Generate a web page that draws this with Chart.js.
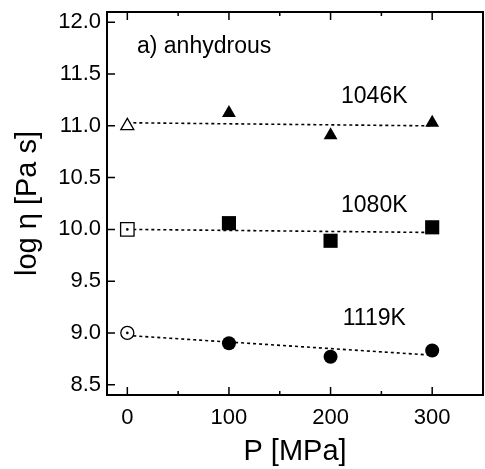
<!DOCTYPE html>
<html>
<head>
<meta charset="utf-8">
<script src="https://cdn.jsdelivr.net/npm/chart.js@4/dist/chart.umd.min.js"></script>
<style>
    html, body { margin: 0; padding: 0; background: #fff; }
    #wrap { width: 485px; height: 469px; }
</style>
</head>
<body>
<div id="wrap"><canvas id="viscChart"></canvas></div>
<script>
// pressure in MPa, log viscosity in Pa s
const pressure = [0, 100, 200, 300];
const eta1046 = [11.0, 11.125, 10.91, 11.03];
const eta1080 = [10.0, 10.06, 9.89, 10.02];
const eta1119 = [9.0, 8.9, 8.77, 8.83];

// dotted fit lines (start / end)
const fitP = [0, 300];
const fit1046 = [11.03, 11.0];
const fit1080 = [10.0, 9.97];
const fit1119 = [8.975, 8.785];

const xTicks = [0, 100, 200, 300];
const xMinorTicks = [50, 150, 250];
const yTicks = [8.5, 9.0, 9.5, 10.0, 10.5, 11.0, 11.5, 12.0];

const textLabels = [
    { text: 'a) anhydrous', x: 9.5, y: 11.77, align: 'left' },
    { text: '1046K', x: 243, y: 11.28, align: 'center' },
    { text: '1080K', x: 243, y: 10.23, align: 'center' },
    { text: '1119K', x: 243, y: 9.14, align: 'center' },
];

const FONT = '"Liberation Sans", Arial, Helvetica, sans-serif';

const pts = (xs, ys) => xs.map((x, i) => ({ x: x, y: ys[i] }));

// first point (0 MPa) is drawn open, the rest filled
const openPt = (ys) => [{ x: pressure[0], y: ys[0] }];
const filledPts = (ys) => pts(pressure.slice(1), ys.slice(1));

function markerSet(data, style, radius, filled, order) {
    return {
        type: 'scatter',
        data: data,
        pointStyle: style,
        pointRadius: radius,
        pointHoverRadius: radius,
        pointBackgroundColor: filled ? '#000' : '#fff',
        pointBorderColor: '#000',
        pointBorderWidth: filled ? 0 : 1.3,
        order: order === undefined ? 1 : order,
    };
}

function fitSet(ys) {
    return {
        type: 'line',
        data: pts(fitP, ys),
        borderColor: '#000',
        borderWidth: 1.6,
        borderDash: [3, 3],
        pointRadius: 0,
        fill: false,
        order: 10,
    };
}

const frameAndTicks = {
    id: 'frameAndTicks',
    afterDraw(chart) {
        const { ctx, chartArea: a, scales } = chart;
        ctx.save();
        ctx.strokeStyle = '#000';
        ctx.lineWidth = 1.5;
        ctx.beginPath();
        xTicks.forEach((v) => {
            const px = scales.x.getPixelForValue(v);
            ctx.moveTo(px, a.bottom); ctx.lineTo(px, a.bottom - 8);
            ctx.moveTo(px, a.top); ctx.lineTo(px, a.top + 8);
        });
        xMinorTicks.forEach((v) => {
            const px = scales.x.getPixelForValue(v);
            ctx.moveTo(px, a.bottom); ctx.lineTo(px, a.bottom - 4);
            ctx.moveTo(px, a.top); ctx.lineTo(px, a.top + 4);
        });
        yTicks.forEach((v) => {
            const py = scales.y.getPixelForValue(v);
            ctx.moveTo(a.left, py); ctx.lineTo(a.left + 8, py);
        });
        ctx.stroke();
        ctx.lineWidth = 2;
        ctx.strokeRect(a.left, a.top, a.right - a.left, a.bottom - a.top);

        ctx.fillStyle = '#000';
        ctx.font = '23px ' + FONT;
        ctx.textBaseline = 'middle';
        textLabels.forEach((t) => {
            ctx.textAlign = t.align;
            ctx.fillText(t.text, scales.x.getPixelForValue(t.x), scales.y.getPixelForValue(t.y));
        });
        ctx.restore();
    },
};

document.addEventListener('DOMContentLoaded', () => {
    const ctx = document.getElementById('viscChart').getContext('2d');

    new Chart(ctx, {
        data: {
            datasets: [
                fitSet(fit1046),
                fitSet(fit1080),
                fitSet(fit1119),
                markerSet(openPt(eta1046), 'triangle', 7.5, false),
                markerSet(filledPts(eta1046), 'triangle', 8, true),
                markerSet(openPt(eta1080), 'rect', 9.5, false),
                markerSet(filledPts(eta1080), 'rect', 10, true),
                markerSet(openPt(eta1119), 'circle', 6.5, false),
                markerSet(filledPts(eta1119), 'circle', 7, true),
                // small dots inside the open square and circle
                markerSet([openPt(eta1080)[0], openPt(eta1119)[0]], 'circle', 1.3, true, 0),
            ],
        },
        options: {
            responsive: true,
            maintainAspectRatio: false,
            animation: false,
            layout: { autoPadding: false, padding: { top: 12, right: 2, left: 0, bottom: 0 } },
            plugins: {
                legend: { display: false },
                tooltip: { enabled: false },
            },
            scales: {
                x: {
                    type: 'linear',
                    min: -20,
                    max: 350,
                    afterBuildTicks: (scale) => {
                        scale.ticks = xTicks.map((v) => ({ value: v }));
                    },
                    afterFit: (scale) => {
                        scale.height = 74;
                        scale.paddingLeft = 0;
                        scale.paddingRight = 0;
                    },
                    grid: { display: false, drawTicks: false },
                    border: { display: false },
                    ticks: {
                        color: '#000',
                        padding: 10,
                        maxRotation: 0,
                        font: { family: FONT, size: 22 },
                    },
                    title: {
                        display: true,
                        text: 'P [MPa]',
                        color: '#000',
                        padding: { top: 5, bottom: 0 },
                        font: { family: FONT, size: 29 },
                    },
                },
                y: {
                    type: 'linear',
                    min: 8.4,
                    max: 12.1,
                    afterBuildTicks: (scale) => {
                        scale.ticks = yTicks.map((v) => ({ value: v }));
                    },
                    afterFit: (scale) => {
                        scale.width = 107;
                        scale.paddingTop = 0;
                        scale.paddingBottom = 0;
                    },
                    grid: { display: false, drawTicks: false },
                    border: { display: false },
                    ticks: {
                        color: '#000',
                        padding: 6,
                        callback: (v) => v.toFixed(1),
                        font: { family: FONT, size: 22 },
                    },
                    title: {
                        display: true,
                        text: 'log η [Pa s]',
                        color: '#000',
                        padding: { top: 11, bottom: 0 },
                        font: { family: FONT, size: 29 },
                    },
                },
            },
        },
        plugins: [frameAndTicks],
    });
});
</script>
</body>
</html>
